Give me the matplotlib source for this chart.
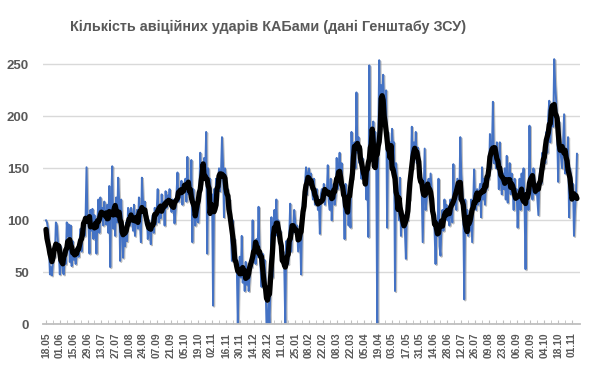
import numpy as np
import pandas as pd
import matplotlib
matplotlib.use("Agg")
import matplotlib.pyplot as plt
import matplotlib.patheffects as pe

# daily values, one row per 14-day tick interval
strikes = [
    100, 98, 92, 75, 48, 55, 47, 60, 72, 65, 98, 95, 80, 70,
    48, 75, 62, 50, 48, 66, 58, 98, 85, 96, 60, 95, 56, 80,
    62, 70, 58, 66, 75, 65, 80, 92, 70, 88, 95, 85, 100, 151,
    100, 95, 68, 110, 90, 111, 82, 105, 95, 68, 98, 120, 88, 122,
    100, 112, 95, 118, 105, 96, 115, 88, 133, 55, 120, 152, 92, 110,
    85, 122, 98, 141, 118, 61, 120, 95, 64, 90, 75, 98, 80, 112,
    108, 95, 112, 104, 90, 115, 85, 100, 110, 92, 122, 98, 79, 141,
    120, 108, 118, 96, 105, 82, 100, 90, 77, 98, 105, 88, 112, 96,
    110, 130, 98, 115, 102, 125, 108, 118, 95, 128, 112, 124, 118, 130,
    115, 108, 120, 112, 97, 110, 125, 146, 118, 130, 122, 138, 115, 135,
    128, 140, 118, 161, 125, 135, 120, 158, 79, 130, 110, 95, 118, 100,
    98, 120, 165, 135, 150, 140, 160, 145, 185, 68, 150, 130, 140, 115,
    125, 18, 130, 110, 140, 120, 135, 150, 128, 145, 180, 155, 103, 150,
    140, 125, 130, 110, 120, 90, 61, 100, 75, 82, 60, 55, 0, 50,
    65, 45, 85, 40, 55, 32, 60, 38, 52, 32, 45, 60, 55, 100,
    60, 75, 58, 82, 65, 113, 70, 55, 36, 68, 50, 62, 45, 0,
    0, 20, 0, 35, 103, 45, 90, 110, 98, 120, 85, 100, 78, 90,
    75, 60, 70, 55, 0, 80, 62, 58, 85, 116, 70, 95, 88, 110,
    100, 85, 95, 70, 80, 90, 48, 105, 120, 110, 135, 151, 125, 145,
    150, 138, 145, 130, 120, 140, 115, 125, 130, 110, 118, 87, 125, 130,
    120, 135, 115, 130, 125, 153, 118, 110, 140, 100, 128, 135, 115, 125,
    160, 130, 150, 165, 140, 155, 130, 120, 82, 135, 110, 125, 95, 115,
    93, 185, 140, 160, 175, 150, 223, 165, 180, 155, 170, 140, 160, 150,
    135, 145, 120, 150, 84, 249, 160, 180, 170, 195, 175, 185, 160, 0,
    170, 254, 200, 230, 215, 240, 210, 190, 225, 93, 185, 160, 175, 150,
    188, 170, 175, 32, 155, 140, 120, 100, 141, 85, 110, 95, 105, 90,
    63, 115, 100, 130, 120, 145, 190, 150, 175, 160, 185, 155, 170, 165,
    150, 140, 130, 79, 125, 169, 110, 120, 135, 140, 125, 145, 130, 115,
    100, 90, 58, 95, 85, 140, 75, 66, 95, 110, 90, 120, 105, 115,
    100, 112, 95, 120, 105, 98, 154, 115, 125, 110, 140, 130, 120, 180,
    145, 130, 110, 24, 120, 95, 110, 85, 100, 90, 120, 79, 115, 149,
    120, 110, 130, 115, 125, 135, 103, 151, 120, 140, 115, 138, 130, 145,
    140, 183, 150, 165, 214, 155, 170, 150, 175, 160, 130, 175, 140, 125,
    145, 130, 150, 120, 162, 117, 140, 155, 125, 145, 130, 110, 140, 125,
    130, 93, 120, 140, 110, 145, 130, 150, 115, 53, 125, 130, 110, 191,
    130, 145, 120, 150, 140, 125, 135, 120, 105, 140, 150, 135, 165, 150,
    170, 155, 185, 165, 200, 215, 175, 195, 210, 190, 255, 230, 215, 185,
    137, 195, 170, 160, 150, 175, 202, 145, 165, 155, 180, 103, 150, 140,
    120, 135, 85, 110, 125, 164,
]

dates = pd.date_range("2024-05-18", periods=len(strikes), freq="D")
s = pd.Series(strikes, index=dates)
avg = s.rolling(7, center=True, min_periods=1).mean()  # ковзне середнє за 7 днів

days = np.arange(len(s))
tick_days = days[::14]
tick_labels = [d.strftime("%d.%m") for d in dates[::14]]

grey = "#595959"

fig = plt.figure(figsize=(5.9, 3.76), dpi=100)
ax = fig.add_axes([0.0729, 0.1375, 0.910, 0.719])

ax.plot(days, s.values, color="#4472C4", lw=1.4,
        path_effects=[pe.SimpleLineShadow(offset=(0.8, -0.8), shadow_color="#7f7f7f", alpha=0.5),
                      pe.Normal()])
ax.plot(days, avg.values, color="black", lw=3.8, solid_capstyle="round")

ax.set_xlim(-3, 540)
ax.set_ylim(0, 260)
ax.set_yticks(range(0, 251, 50))
ax.yaxis.grid(True, color="#D9D9D9", lw=1)
ax.set_axisbelow(True)

ax.set_xticks(tick_days)
ax.set_xticklabels(tick_labels, rotation=90, fontsize=7.4, color=grey,
                   family="Liberation Sans", fontweight="bold")
ax.set_xticks(days[::7], minor=True)
ax.tick_params(axis="x", which="both", direction="in", length=3, color="#BFBFBF", pad=6)
ax.tick_params(axis="y", length=0, pad=10)
for lb in ax.get_yticklabels():
    lb.set_family("Liberation Sans")
    lb.set_fontweight("bold")
    lb.set_fontsize(9.5)
    lb.set_color(grey)

for side in ["top", "right", "left"]:
    ax.spines[side].set_visible(False)
ax.spines["bottom"].set_color("#BFBFBF")
ax.spines["bottom"].set_linewidth(1.3)

title = fig.text(268 / 590, 1 - 27 / 376, "Кількість авіційних ударів КАБами (дані Генштабу ЗСУ)",
                 ha="center", va="center", fontsize=12, fontweight="bold", color=grey,
                 family="Liberation Sans")
# fit the title to the width it has in the original (about 393 px)
r = fig.canvas.get_renderer()
w = title.get_window_extent(r).width
title.set_fontsize(12 * 393 / w)

fig.savefig("out.png", dpi=100)
